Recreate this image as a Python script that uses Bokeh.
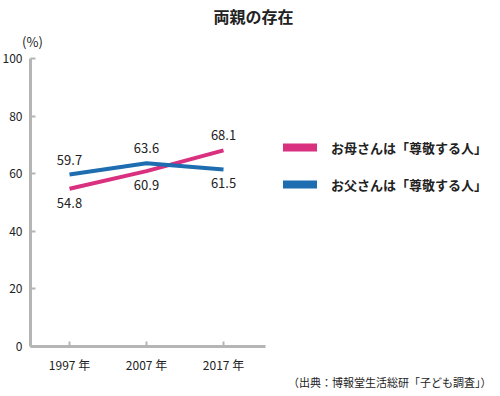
from bokeh.plotting import figure
from bokeh.models import (ColumnDataSource, FixedTicker, Label, Legend, LegendItem, Range1d)
from bokeh.core.properties import value
from bokeh.embed import file_html
from bokeh.resources import INLINE

# ---- data ----
years = [1997, 2007, 2017]
year_labels = ["1997 年", "2007 年", "2017 年"]
mother = [54.8, 60.9, 68.1]
father = [59.7, 63.6, 61.5]
series_names = ["お母さんは「尊敬する人」", "お父さんは「尊敬する人」"]
y_ticks = [0, 20, 40, 60, 80, 100]
title_text = "両親の存在"
unit_text = "(%)"
source_text = "（出典：博報堂生活総研「子ども調査」）"

FONT = "Noto Sans CJK JP"
PINK = "#d93080"
BLUE = "#1d6db0"
AXIS = "#b5b5b5"
TXT = "#222222"

# axis extents (data units)
X_AXIS_START, X_AXIS_END = 1991.94, 2022.46

p = figure(width=500, height=396, output_backend="svg", toolbar_location=None,
           x_range=Range1d(1988.04, 2052.97), y_range=Range1d(-17.36, 120.14),
           min_border=0)
p.outline_line_color = None
p.xgrid.grid_line_color = None
p.ygrid.grid_line_color = None

# lines
p.line(years, mother, line_color=PINK, line_width=4)
p.line(years, father, line_color=BLUE, line_width=4)

# value labels: higher value above, lower below
hi = [max(a, b) for a, b in zip(mother, father)]
lo = [min(a, b) for a, b in zip(mother, father)]
src_hi = ColumnDataSource(dict(x=years, y=hi, t=[f"{v:.1f}" for v in hi]))
src_lo = ColumnDataSource(dict(x=years, y=lo, t=[f"{v:.1f}" for v in lo]))
p.text(x="x", y="y", text="t", source=src_hi, y_offset=-15, text_align="center",
       text_baseline="middle", text_font=value(FONT), text_font_size="13px", text_color=TXT)
p.text(x="x", y="y", text="t", source=src_lo, y_offset=14, text_align="center",
       text_baseline="middle", text_font=value(FONT), text_font_size="13px", text_color=TXT)

# axes
for ax in (p.xaxis[0], p.yaxis[0]):
    ax.axis_line_color = AXIS
    ax.axis_line_width = 3
    ax.major_tick_line_color = AXIS
    ax.major_tick_line_width = 2
    ax.major_tick_in = 5
    ax.major_tick_out = 0
    ax.minor_tick_line_color = None
    ax.major_label_text_font = FONT
    ax.major_label_text_font_size = "12px"
    ax.major_label_text_color = TXT

p.xaxis.ticker = FixedTicker(ticks=years)
p.xaxis.major_label_overrides = {y: l for y, l in zip(years, year_labels)}
p.xaxis.major_label_standoff = 9
p.xaxis.fixed_location = 0
p.xaxis.bounds = (X_AXIS_START, X_AXIS_END)
p.yaxis.ticker = FixedTicker(ticks=y_ticks)
p.yaxis.major_label_standoff = 8
p.yaxis.fixed_location = X_AXIS_START
p.yaxis.bounds = (0, 100)

# legend: thick key lines (hidden renderers, drawn only in the legend)
r_m = p.line(years, mother, line_color=PINK, line_width=8, line_cap="round", visible=False)
r_f = p.line(years, father, line_color=BLUE, line_width=8, line_cap="round", visible=False)
legend = Legend(items=[LegendItem(label=series_names[0], renderers=[r_m]),
                       LegendItem(label=series_names[1], renderers=[r_f])],
                location=(283, 202), padding=0, margin=0, spacing=17,
                glyph_width=34, glyph_height=20, label_height=20, label_standoff=14,
                label_text_font=FONT, label_text_font_size="13px",
                label_text_font_style="bold", label_text_color=TXT,
                border_line_color=None, background_fill_alpha=0,
                inactive_fill_alpha=0, click_policy="none")
p.add_layout(legend, "center")

# other texts
p.add_layout(Label(x=253, y=381, x_units="screen", y_units="screen", text=title_text,
                   text_align="center", text_baseline="middle", text_font=FONT,
                   text_font_size="16px", text_font_style="bold", text_color=TXT))
p.add_layout(Label(x=32, y=355, x_units="screen", y_units="screen", text=unit_text,
                   text_align="center", text_baseline="middle", text_font=FONT,
                   text_font_size="13px", text_color=TXT))
p.add_layout(Label(x=491, y=15, x_units="screen", y_units="screen", text=source_text,
                   text_align="right", text_baseline="middle", text_font=FONT,
                   text_font_size="11px", text_color=TXT))

open("out.html", "w").write(file_html(p, INLINE))
